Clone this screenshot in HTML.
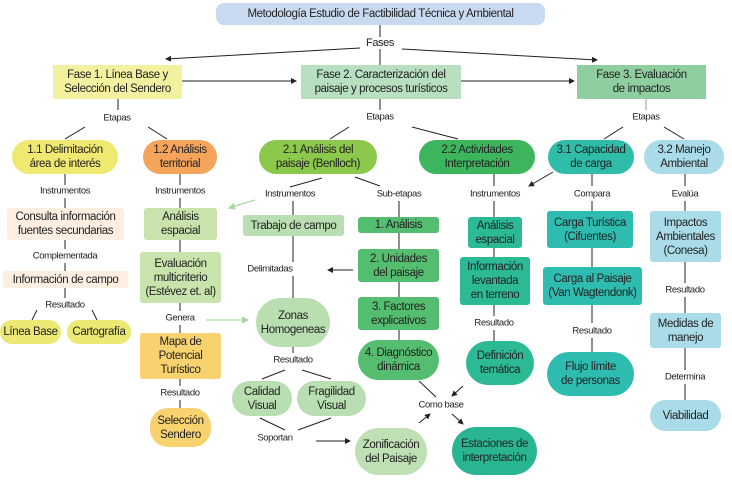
<!DOCTYPE html>
<html><head><meta charset="utf-8"><style>
body{margin:0;width:732px;height:483px;background:#fff;position:relative;overflow:hidden;font-family:"Liberation Sans Narrow","Liberation Sans",sans-serif;color:#222;letter-spacing:-0.4px}
.n{position:absolute;display:flex;align-items:center;justify-content:center;text-align:center;font-size:11.5px;line-height:14px;box-sizing:border-box;white-space:nowrap}
.p{border-radius:18px}
.r{border-radius:3px}
.l{position:absolute;font-size:9.5px;transform:translate(-50%,-50%);white-space:nowrap;background:#fff;padding:0 1px}
svg{position:absolute;left:0;top:0}
</style></head><body>
<svg width="732" height="483">
<defs>
<marker id="a" markerWidth="6" markerHeight="6" refX="5" refY="3" orient="auto"><path d="M0,0 L6,3 L0,6z" fill="#222"/></marker>
<marker id="g" markerWidth="6" markerHeight="6" refX="5" refY="3" orient="auto"><path d="M0,0 L6,3 L0,6z" fill="#a8d8a0"/></marker>
</defs>
<g stroke="#222" stroke-width="1" fill="none">
<line x1="380" y1="25" x2="380" y2="65"/>
<line x1="360" y1="48" x2="166" y2="59" marker-end="url(#a)"/>
<line x1="402" y1="49" x2="597" y2="60" marker-end="url(#a)"/>
<line x1="182" y1="81" x2="296" y2="81" marker-end="url(#a)"/>
<line x1="461" y1="81" x2="574" y2="81" marker-end="url(#a)"/>
<line x1="118" y1="99" x2="118" y2="110"/>
<line x1="85" y1="127" x2="65" y2="139"/><line x1="148" y1="127" x2="167" y2="139"/>
<line x1="380" y1="99" x2="380" y2="110"/>
<line x1="349" y1="127" x2="330" y2="139"/><line x1="412" y1="127" x2="458" y2="139"/>
<line x1="646" y1="99" x2="646" y2="110" stroke="#999"/>
<line x1="623" y1="127" x2="604" y2="139"/><line x1="664" y1="127" x2="684" y2="139"/>
<line x1="65" y1="174" x2="65" y2="185"/><line x1="65" y1="198" x2="65" y2="208"/>
<line x1="65" y1="240" x2="65" y2="249"/><line x1="65" y1="263" x2="65" y2="271"/>
<line x1="65" y1="288" x2="65" y2="298"/>
<line x1="37" y1="310" x2="32" y2="320"/><line x1="92" y1="310" x2="97" y2="320"/>
<line x1="180" y1="174" x2="180" y2="185"/><line x1="180" y1="198" x2="180" y2="208"/>
<line x1="180" y1="240" x2="180" y2="252"/><line x1="180" y1="303" x2="180" y2="311"/>
<line x1="180" y1="325" x2="180" y2="333"/><line x1="180" y1="379" x2="180" y2="386"/>
<line x1="180" y1="400" x2="180" y2="408"/>
<line x1="322" y1="178" x2="290" y2="187"/><line x1="355" y1="177" x2="380" y2="186"/>
<line x1="293" y1="201" x2="293" y2="215"/><line x1="293" y1="236" x2="293" y2="262"/>
<line x1="293" y1="276" x2="293" y2="298"/>
<line x1="353" y1="270" x2="328" y2="270" marker-end="url(#a)"/>
<line x1="293" y1="347" x2="293" y2="353"/>
<line x1="285" y1="370" x2="262" y2="379"/><line x1="302" y1="370" x2="331" y2="379"/>
<line x1="260" y1="418" x2="285" y2="430"/><line x1="331" y1="418" x2="298" y2="430"/>
<line x1="316" y1="441" x2="350" y2="441" marker-end="url(#a)"/>
<line x1="399" y1="201" x2="399" y2="340"/>
<line x1="419" y1="381" x2="436" y2="397"/>
<line x1="463" y1="386" x2="452" y2="396" marker-end="url(#a)"/>
<line x1="419" y1="423" x2="430" y2="414" marker-end="url(#a)"/>
<line x1="452" y1="414" x2="463" y2="424" marker-end="url(#a)"/>
<line x1="494" y1="174" x2="494" y2="186"/><line x1="494" y1="201" x2="494" y2="305"/>
<line x1="494" y1="305" x2="494" y2="316"/><line x1="494" y1="330" x2="494" y2="341"/>
<line x1="553" y1="172" x2="529" y2="186" marker-end="url(#a)"/>
<line x1="592" y1="174" x2="592" y2="186"/><line x1="592" y1="201" x2="592" y2="267"/>
<line x1="592" y1="305" x2="592" y2="323"/><line x1="592" y1="338" x2="592" y2="352"/>
<line x1="685" y1="174" x2="685" y2="186"/><line x1="685" y1="201" x2="685" y2="211"/>
<line x1="685" y1="262" x2="685" y2="283"/><line x1="685" y1="297" x2="685" y2="313"/>
<line x1="685" y1="348" x2="685" y2="370"/><line x1="685" y1="384" x2="685" y2="400"/>
</g>
<line x1="255" y1="200" x2="229" y2="208" stroke="#a8d8a0" stroke-width="1.2" marker-end="url(#g)"/>
<line x1="206" y1="320" x2="248" y2="320" stroke="#a8d8a0" stroke-width="1.2" marker-end="url(#g)"/>
</svg>

<div class="n r" style="left:216px;top:3px;width:329px;height:22px;background:#c9daf0;border-radius:8px">Metodología Estudio de Factibilidad Técnica y Ambiental</div>
<div class="l" style="left:380px;top:43px;font-size:11px">Fases</div>
<div class="n" style="left:53px;top:65px;width:129px;height:34px;background:#f3f0a0">Fase 1. Línea Base y<br>Selección del Sendero</div>
<div class="n" style="left:301px;top:65px;width:160px;height:34px;background:#b8dfc0">Fase 2. Caracterización del<br>paisaje y procesos turísticos</div>
<div class="n" style="left:577px;top:65px;width:129px;height:34px;background:#8fcea0">Fase 3. Evaluación<br>de impactos</div>
<div class="l" style="left:117px;top:118px">Etapas</div>
<div class="l" style="left:380px;top:117px">Etapas</div>
<div class="l" style="left:646px;top:117px">Etapas</div>

<div class="n p" style="left:12px;top:140px;width:106px;height:34px;background:#efe871">1.1 Delimitación<br>área de interés</div>
<div class="n p" style="left:143px;top:140px;width:74px;height:34px;background:#f5a45c">1.2 Análisis<br>territorial</div>
<div class="n p" style="left:259px;top:140px;width:118px;height:34px;background:#8cc84b">2.1 Análisis del<br>paisaje (Benlloch)</div>
<div class="n p" style="left:419px;top:140px;width:116px;height:34px;background:#3cb55d">2.2 Actividades<br>Interpretación</div>
<div class="n p" style="left:548px;top:140px;width:86px;height:34px;background:#2fbca8">3.1 Capacidad<br>de carga</div>
<div class="n p" style="left:644px;top:140px;width:80px;height:34px;background:#a9dce8">3.2 Manejo<br>Ambiental</div>

<div class="l" style="left:65px;top:191px">Instrumentos</div>
<div class="l" style="left:180px;top:191px">Instrumentos</div>
<div class="l" style="left:290px;top:194px">Instrumentos</div>
<div class="l" style="left:399px;top:194px">Sub-etapas</div>
<div class="l" style="left:495px;top:194px">Instrumentos</div>
<div class="l" style="left:592px;top:194px">Compara</div>
<div class="l" style="left:685px;top:194px">Evalúa</div>

<div class="n r" style="left:7px;top:208px;width:117px;height:32px;background:#fcefe2">Consulta información<br>fuentes secundarias</div>
<div class="l" style="left:65px;top:256px">Complementada</div>
<div class="n r" style="left:3px;top:271px;width:125px;height:17px;background:#fcefe2">Información de campo</div>
<div class="l" style="left:65px;top:305px">Resultado</div>
<div class="n p" style="left:0px;top:320px;width:61px;height:24px;background:#ece874">Línea Base</div>
<div class="n p" style="left:67px;top:320px;width:64px;height:24px;background:#ece874">Cartografía</div>

<div class="n r" style="left:144px;top:208px;width:73px;height:32px;background:#c8e3ab">Análisis<br>espacial</div>
<div class="n r" style="left:140px;top:252px;width:81px;height:51px;background:#c8e3ab">Evaluación<br>multicriterio<br>(Estévez et. al)</div>
<div class="l" style="left:180px;top:318px">Genera</div>
<div class="n r" style="left:140px;top:333px;width:81px;height:46px;background:#f8d26e">Mapa de<br>Potencial<br>Turístico</div>
<div class="l" style="left:180px;top:393px">Resultado</div>
<div class="n p" style="left:150px;top:408px;width:61px;height:39px;background:#f8d26e">Selección<br>Sendero</div>

<div class="n r" style="left:243px;top:215px;width:101px;height:21px;background:#b9deb1">Trabajo de campo</div>
<div class="l" style="left:270px;top:269px">Delimitadas</div>
<div class="n" style="left:256px;top:298px;width:74px;height:49px;background:#b9deb1;border-radius:25px">Zonas<br>Homogeneas</div>
<div class="l" style="left:293px;top:360px">Resultado</div>
<div class="n p" style="left:232px;top:381px;width:60px;height:35px;background:#b9deb1">Calidad<br>Visual</div>
<div class="n p" style="left:297px;top:381px;width:69px;height:35px;background:#b9deb1">Fragilidad<br>Visual</div>
<div class="l" style="left:275px;top:438px">Soportan</div>
<div class="n" style="left:355px;top:428px;width:72px;height:47px;background:#bfe0b4;border-radius:24px">Zonificación<br>del Paisaje</div>

<div class="n r" style="left:358px;top:217px;width:81px;height:16px;background:#55bd6f">1. Análisis</div>
<div class="n r" style="left:358px;top:249px;width:81px;height:33px;background:#55bd6f">2. Unidades<br>del paisaje</div>
<div class="n r" style="left:358px;top:297px;width:81px;height:33px;background:#55bd6f">3. Factores<br>explicativos</div>
<div class="n" style="left:358px;top:340px;width:81px;height:40px;background:#55bd6f;border-radius:20px">4. Diagnóstico<br>dinámica</div>
<div class="l" style="left:441px;top:405px">Como base</div>
<div class="n" style="left:452px;top:427px;width:85px;height:48px;background:#2ab592;border-radius:24px">Estaciones de<br>interpretación</div>

<div class="n r" style="left:468px;top:217px;width:54px;height:31px;background:#2cb996">Análisis<br>espacial</div>
<div class="n r" style="left:460px;top:257px;width:70px;height:48px;background:#2cb996">Información<br>levantada<br>en terreno</div>
<div class="l" style="left:494px;top:323px">Resultado</div>
<div class="n" style="left:466px;top:341px;width:68px;height:44px;background:#2cb996;border-radius:22px">Definición<br>temática</div>

<div class="n r" style="left:547px;top:211px;width:86px;height:37px;background:#2fbcb0">Carga Turística<br>(Cifuentes)</div>
<div class="n r" style="left:543px;top:267px;width:99px;height:38px;background:#2fbcb0">Carga al Paisaje<br>(Van Wagtendonk)</div>
<div class="l" style="left:592px;top:331px">Resultado</div>
<div class="n" style="left:547px;top:352px;width:87px;height:44px;background:#2fbcb0;border-radius:22px">Flujo límite<br>de personas</div>

<div class="n r" style="left:650px;top:211px;width:71px;height:51px;background:#a9dce8">Impactos<br>Ambientales<br>(Conesa)</div>
<div class="l" style="left:685px;top:290px">Resultado</div>
<div class="n r" style="left:650px;top:313px;width:71px;height:35px;background:#a9dce8">Medidas de<br>manejo</div>
<div class="l" style="left:685px;top:377px">Determina</div>
<div class="n p" style="left:650px;top:400px;width:71px;height:31px;background:#a9dce8">Viabilidad</div>
</body></html>
